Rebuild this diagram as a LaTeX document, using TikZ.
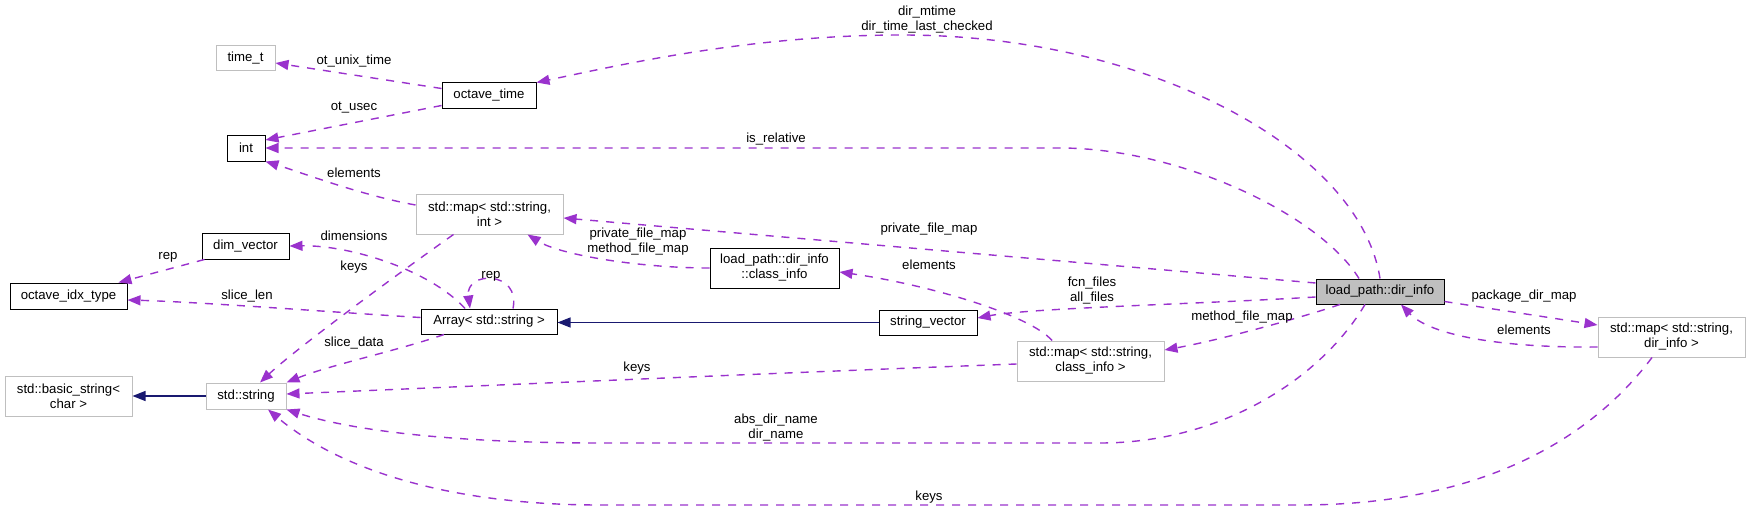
\documentclass[tikz,border=0pt]{standalone}
\usepackage{fontspec}
\setmainfont{Liberation Sans}
\usetikzlibrary{arrows.meta}
\definecolor{edgepurple}{HTML}{9A32CD}
\definecolor{navyedge}{HTML}{191970}
\definecolor{boxgray}{HTML}{BFBFBF}
\begin{document}
\begin{tikzpicture}[x=1pt,y=-1pt,
  font=\fontsize{13.2}{15}\selectfont,
  cls/.style={draw=black, line width=1pt, rectangle, inner sep=0pt, align=center},
  ext/.style={draw=boxgray, line width=1pt, rectangle, inner sep=0pt, align=center},
  rel/.style={draw=edgepurple, line width=1.4pt, dash pattern=on 8pt off 8pt, -{Triangle[length=13pt,width=10pt]}},
  inh/.style={draw=navyedge, line width=1.4pt, -{Triangle[length=13pt,width=10pt]}},
  lbl/.style={inner sep=0pt, align=center}]
\useasboundingbox (0,0) rectangle (1751,511);

% nodes
\node[ext, minimum width=59pt, minimum height=25pt] (timet) at (245.5,58.5) {time\_t};
\node[cls, minimum width=94pt, minimum height=25pt] (octave) at (489,95.5) {octave\_time};
\node[cls, minimum width=38pt, minimum height=26pt] (int) at (246,148) {int};
\node[ext, minimum width=147pt, minimum height=40pt] (mapint) at (489.5,214) {std::map< std::string,\\int >};
\node[cls, minimum width=87pt, minimum height=26pt] (dimvector) at (245.5,246) {dim\_vector};
\node[cls, minimum width=117pt, minimum height=26pt] (octidx) at (68.5,296) {octave\_idx\_type};
\node[cls, minimum width=136pt, minimum height=25pt] (array) at (489,321.5) {Array< std::string >};
\node[ext, minimum width=127pt, minimum height=40pt] (basicstring) at (68.5,396) {std::basic\_string<\\char >};
\node[ext, minimum width=80pt, minimum height=26pt] (stdstring) at (246,396) {std::string};
\node[cls, minimum width=129pt, minimum height=40pt] (classinfo) at (774.5,268) {load\_path::dir\_info\\::class\_info};
\node[cls, minimum width=98pt, minimum height=25pt] (stringvector) at (928,322.5) {string\_vector};
\node[ext, minimum width=147pt, minimum height=40pt] (mapclass) at (1090.5,361) {std::map< std::string,\\class\_info >};
\node[cls, minimum width=128pt, minimum height=25pt, fill=boxgray] (dirinfo) at (1380,291.5) {load\_path::dir\_info};
\node[ext, minimum width=147pt, minimum height=40pt] (mapdir) at (1671.5,337) {std::map< std::string,\\dir\_info >};

% edges
\draw[rel] (dirinfo.north) .. controls (1360,150) and (1150,35) .. (902,35) .. controls (750,35) and (620,65) .. (octave.north east);
\draw[rel] ([xshift=-21pt]dirinfo.north) .. controls (1320,215) and (1180,148) .. (1060,148) -- (int.east);
\draw[rel] ([yshift=7pt]octave.west) -- ([yshift=-4.5pt]timet.east);
\draw[rel] ([yshift=-10pt]octave.west) -- ([yshift=8pt]int.east);
\draw[rel] ([yshift=8.5pt]dirinfo.west) -- ([yshift=-4pt]mapint.east);
\draw[rel] (classinfo.west) .. controls (640,268) and (560,255) .. ([xshift=38pt]mapint.south);
\draw[rel] ([yshift=9pt]mapint.west) .. controls (360,195) and (300,172) .. (int.south east);
\draw[rel] ([xshift=-36pt]mapint.south) .. controls (420,258) and (300,345) .. ([xshift=14pt]stdstring.north);
\draw[rel] ([xshift=-24pt]array.north) .. controls (430,270) and (350,245) .. (dimvector.east);
\draw[rel] ([xshift=24pt]array.north) .. controls +(8,-38) and +(-5,-38) .. ([xshift=-19pt]array.north);
\draw[rel] ([xshift=3pt]dimvector.south west) -- ([xshift=50pt]octidx.north);
\draw[rel] ([yshift=4pt]array.west) .. controls (330,312) and (200,302) .. ([yshift=-4pt]octidx.east);
\draw[rel] ([xshift=-45pt]array.south) .. controls (400,350) and (330,365) .. (stdstring.north east);
\draw[inh] (stringvector.west) -- (stringvector.west -| array.east);
\draw[inh] (stdstring.west) -- (basicstring.east);
\draw[rel] ([yshift=-5.5pt]dirinfo.west) .. controls (1200,304) and (1030,308) .. ([yshift=4.5pt]stringvector.east);
\draw[rel] ([xshift=-38.5pt]mapclass.north) .. controls (1030,315) and (930,285) .. ([yshift=-4pt]classinfo.east);
\draw[rel] ([yshift=-3pt]mapclass.west) .. controls (800,372) and (500,385) .. ([yshift=2pt]stdstring.east);
\draw[rel] ([xshift=-40pt]dirinfo.south) .. controls (1300,318) and (1220,340) .. ([yshift=11pt]mapclass.east);
\draw[rel] ([xshift=-15pt]dirinfo.south) .. controls (1320,380) and (1220,443) .. (1100,443) -- (600,443) .. controls (450,443) and (350,430) .. (stdstring.south east);
\draw[rel] ([yshift=-10pt]mapdir.west) .. controls (1500,348) and (1430,335) .. ([xshift=21pt]dirinfo.south);
\draw[rel] ([yshift=-10pt]dirinfo.east) -- ([yshift=12pt]mapdir.west);
\draw[rel] ([xshift=-19.5pt]mapdir.south) .. controls (1590,440) and (1480,505) .. (1300,505) -- (600,505) .. controls (450,505) and (340,470) .. ([xshift=22pt]stdstring.south);

% labels
\node[lbl] (l1) at (927,19.5) {dir\_mtime\\dir\_time\_last\_checked};
\node[lbl] (l2) at (354,61) {ot\_unix\_time};
\node[lbl] (l3) at (354,108) {ot\_usec};
\node[lbl] (l4) at (776,139) {is\_relative};
\node[lbl] (l5) at (354,173) {elements};
\node[lbl] (l6) at (929,229) {private\_file\_map};
\node[lbl] (l7) at (638,241.5) {private\_file\_map\\method\_file\_map};
\node[lbl] (l8) at (354,236) {dimensions};
\node[lbl] (l9) at (168,257) {rep};
\node[lbl] (l10) at (354,267) {keys};
\node[lbl] (l11) at (491,276) {rep};
\node[lbl] (l12) at (247,296) {slice\_len};
\node[lbl] (l13) at (929,265) {elements};
\node[lbl] (l14) at (1092,290.5) {fcn\_files\\all\_files};
\node[lbl] (l15) at (1242,317) {method\_file\_map};
\node[lbl] (l16) at (1524,296) {package\_dir\_map};
\node[lbl] (l17) at (1524,330) {elements};
\node[lbl] (l18) at (354,343) {slice\_data};
\node[lbl] (l19) at (637,368) {keys};
\node[lbl] (l20) at (776,428) {abs\_dir\_name\\dir\_name};
\node[lbl] (l21) at (929,497) {keys};
\end{tikzpicture}
\end{document}
